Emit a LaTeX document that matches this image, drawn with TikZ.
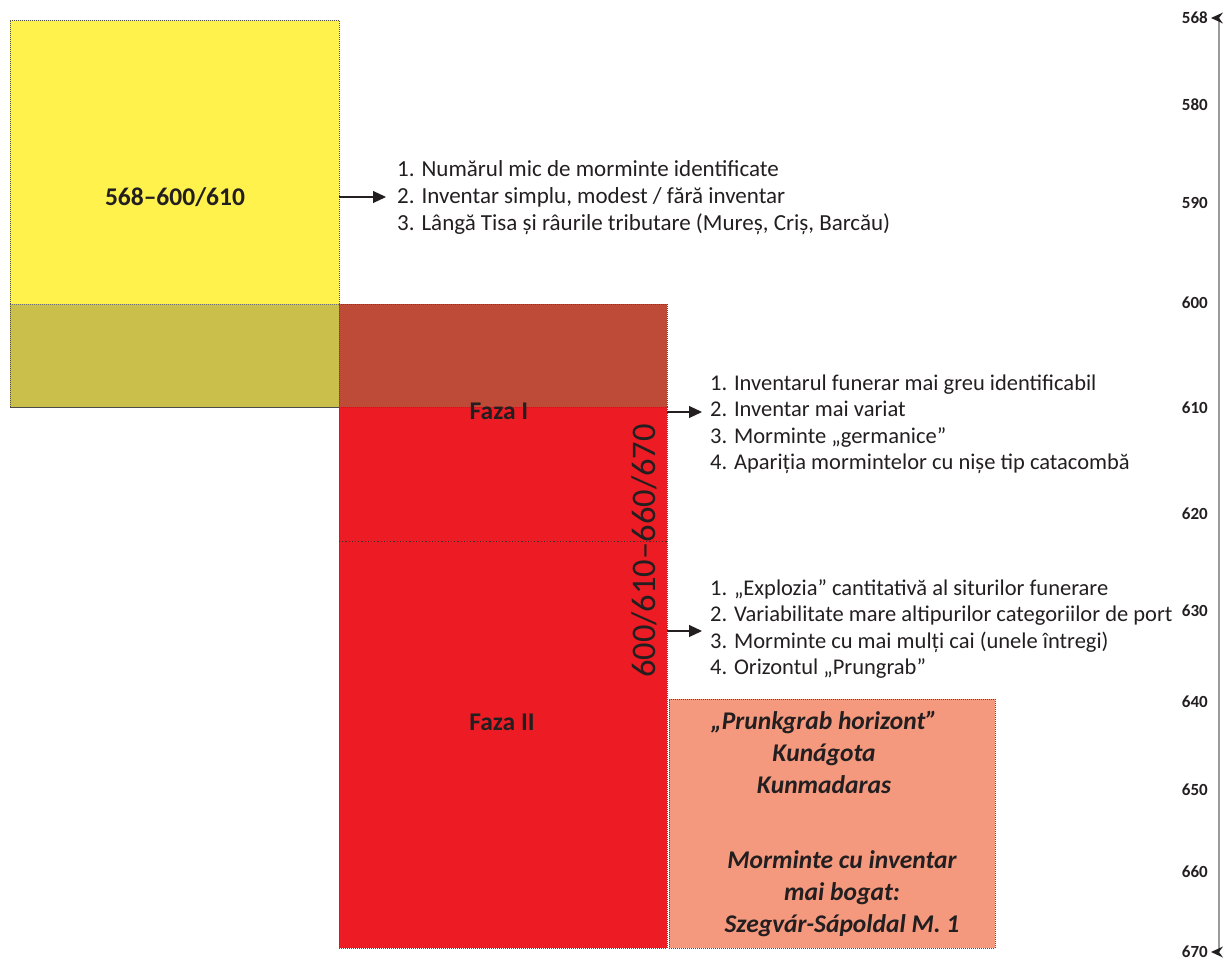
\documentclass[tikz,border=0pt]{standalone}
\usepackage{fontspec}
\setmainfont{Carlito}
\usetikzlibrary{arrows.meta}
\definecolor{yelc}{HTML}{FFF24C}
\definecolor{olivec}{HTML}{CBBF4C}
\definecolor{brownc}{HTML}{BE4B37}
\definecolor{redc}{HTML}{ED1C24}
\definecolor{salmonc}{HTML}{F4997E}
\definecolor{txt}{HTML}{231F20}
\definecolor{axisc}{HTML}{9A9A9A}
\tikzset{
  box/.style={draw=black!70, dash pattern=on 1pt off 1pt, line width=0.9pt, anchor=north west, inner sep=0pt, outer sep=0pt},
  listtxt/.style={anchor=west, align=left, inner sep=0pt, text=txt, font=\fontsize{23}{27}\selectfont},
  listtxtb/.style={listtxt, font=\fontsize{22.5}{26.5}\selectfont},
  boldlbl/.style={text=txt, font=\bfseries\fontsize{25.5}{28}\selectfont, inner sep=0pt},
  boxtxt/.style={text=txt, align=center, inner sep=0pt, font=\bfseries\itshape\fontsize{25.5}{32}\selectfont},
  axlbl/.style={anchor=east, text=txt, inner sep=0pt, font=\bfseries\fontsize{17}{19}\selectfont},
  arr/.style={-{Triangle[length=13pt,width=12pt]}, line width=1.1pt, draw=txt},
}
\begin{document}
\begin{tikzpicture}[x=1pt,y=-1pt]
\useasboundingbox (0,0) rectangle (1225,960);
% boxes
\node[box, fill=yelc, minimum width=329pt, minimum height=387pt] (yel) at (10,20) {};
\node[box, fill=olivec, draw=none, minimum width=329pt, minimum height=103pt] (olive) at (10,304) {};
\draw[black!55, dash pattern=on 1pt off 1pt, line width=0.8pt] (olive.north west) -- (olive.north east);
\draw[black!70, dash pattern=on 1pt off 1pt, line width=0.9pt] (olive.north west) -- (olive.south west) -- (olive.south east);
\node[box, fill=redc, minimum width=328pt, minimum height=541pt] (red) at (339,407) {};
\node[box, fill=brownc, minimum width=328pt, minimum height=103pt] (brown) at (339,304) {};
\node[box, fill=salmonc, minimum width=326pt, minimum height=249pt] (salmon) at (669,699) {};
\coordinate (d1) at (339,541);
\coordinate (d2) at (667,541);
\draw[black!80, dash pattern=on 1.2pt off 2pt, line width=1pt] (d1) -- (d2);
% labels
\node[boldlbl] (l1) at (175,197) {568–600/610};
\node[boldlbl] (f1) at (499,411) {Faza I};
\node[boldlbl] (f2) at (502,722) {Faza II};
\node[text=txt, inner sep=0pt, rotate=90, font=\fontsize{34.5}{36}\selectfont] (rot) at (644,551) {600/610–660/670};
% lists
\node[listtxt] (list1) at (397,198) {1. Numărul mic de morminte identificate\\2. Inventar simplu, modest / fără inventar\\3. Lângă Tisa și râurile tributare (Mureș, Criș, Barcău)};
\node[listtxtb] (list2) at (710,424) {1. Inventarul funerar mai greu identificabil\\2. Inventar mai variat\\3. Morminte „germanice”\\4. Apariția mormintelor cu nișe tip catacombă};
\node[listtxtb] (list3) at (710,629) {1. „Explozia” cantitativă al siturilor funerare\\2. Variabilitate mare altipurilor categoriilor de port\\3. Morminte cu mai mulți cai (unele întregi)\\4. Orizontul „Prungrab”};
% arrows
\coordinate (a1) at (386,197);
\coordinate (a2) at (702,412);
\coordinate (a3) at (702,631);
\draw[arr] (yel.east |- a1) -- (a1);
\draw[arr] (red.east |- a2) -- (a2);
\draw[arr] (red.east |- a3) -- (a3);
% salmon box text
\node[boxtxt] (s1) at (824,752) {„Prunkgrab horizont”\\Kunágota\\Kunmadaras};
\node[boxtxt] (s2) at (842,894) {Morminte cu inventar\\mai bogat:\\Szegvár-Sápoldal M. 1};
% axis
\coordinate (ax1) at (1219,18);
\coordinate (ax2) at (1219,952);
\draw[axisc, line width=1.5pt] (ax1) -- (ax2);
\fill[txt] (1211,18) -- (1223,12.5) -- (1219,18) -- (1223,23.5) -- cycle;
\fill[txt] (1211,952) -- (1223,946.5) -- (1219,952) -- (1223,957.5) -- cycle;
\node[axlbl] (y568) at (1208,18) {568};
\node[axlbl] (y580) at (1208,105) {580};
\node[axlbl] (y590) at (1208,203) {590};
\node[axlbl] (y600) at (1208,303) {600};
\node[axlbl] (y610) at (1208,408) {610};
\node[axlbl] (y620) at (1208,514) {620};
\node[axlbl] (y630) at (1208,611) {630};
\node[axlbl] (y640) at (1208,702) {640};
\node[axlbl] (y650) at (1208,790) {650};
\node[axlbl] (y660) at (1208,872) {660};
\node[axlbl] (y670) at (1208,952) {670};
\end{tikzpicture}
\end{document}
